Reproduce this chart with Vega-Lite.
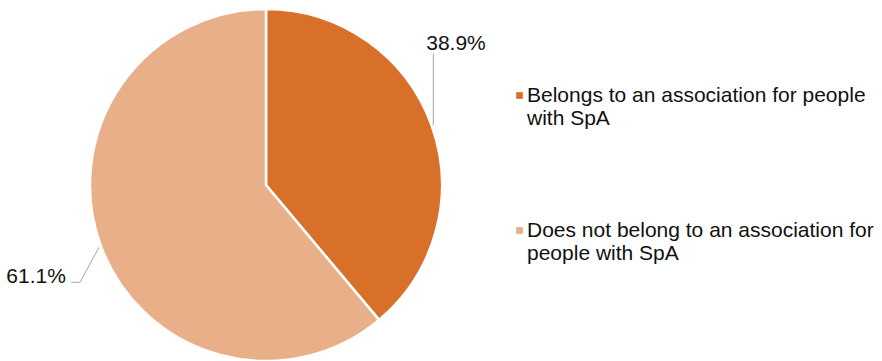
{
  "$schema": "https://vega.github.io/schema/vega-lite/v6.json",
  "width": 532,
  "height": 370,
  "padding": 0,
  "autosize": {"type": "pad"},
  "background": "white",
  "config": {"view": {"stroke": null}, "font": "Liberation Sans"},
  "datasets": {
    "slices": [
      {"category": "Belongs to an association for people with SpA", "share": 38.9, "label": "38.9%", "rank": 1},
      {"category": "Does not belong to an association for people with SpA", "share": 61.1, "label": "61.1%", "rank": 2}
    ],
    "leaders": [
      {"leader": "a", "seq": 1, "px": 0.9506, "py": 0.7483},
      {"leader": "a", "seq": 2, "px": 0.9506, "py": 0.3409},
      {"leader": "b", "seq": 1, "px": -1.108, "py": -0.5528},
      {"leader": "b", "seq": 2, "px": -1.0568, "py": -0.5528},
      {"leader": "b", "seq": 3, "px": -0.9489, "py": -0.354}
    ]
  },
  "layer": [
    {
      "data": {"name": "slices"},
      "mark": {"type": "arc", "outerRadius": 176, "stroke": "white", "strokeWidth": 2.5},
      "encoding": {
        "theta": {"field": "share", "type": "quantitative", "stack": true},
        "order": {"field": "rank", "type": "quantitative"},
        "color": {
          "field": "category",
          "type": "nominal",
          "scale": {
            "domain": ["Belongs to an association for people with SpA", "Does not belong to an association for people with SpA"],
            "range": ["#D9702A", "#E9AF88"]
          },
          "legend": {
            "title": null,
            "orient": "none",
            "legendX": 509,
            "legendY": 91,
            "padding": 0,
            "symbolType": "M-1,-2.79H1V-0.79H-1Z",
            "symbolSize": 45,
            "symbolStrokeWidth": 0,
            "labelFontSize": 21,
            "labelFont": "Liberation Sans",
            "labelColor": "#111111",
            "labelLimit": 500,
            "labelOffset": -3,
            "labelBaseline": "alphabetic",
            "rowPadding": 90,
            "labelExpr": "datum.label == 'Belongs to an association for people with SpA' ? ['Belongs to an association for people', 'with SpA'] : ['Does not belong to an association for', 'people with SpA']",
            "encode": {"labels": {"update": {"dy": {"value": 16}}}}
          }
        }
      }
    },
    {
      "data": {"name": "slices"},
      "mark": {"type": "text", "radius": 200, "dx": 2, "dy": -66.6, "fontSize": 21, "font": "Liberation Sans", "color": "#111111", "align": "center", "baseline": "alphabetic"},
      "encoding": {
        "theta": {"field": "share", "type": "quantitative", "stack": true},
        "order": {"field": "rank", "type": "quantitative"},
        "text": {"condition": {"test": "datum.rank == 1", "field": "label"}, "value": ""}
      }
    },
    {
      "data": {"name": "slices"},
      "mark": {"type": "text", "radius": 200, "dx": -42, "dy": 29.6, "fontSize": 21, "font": "Liberation Sans", "color": "#111111", "align": "center", "baseline": "alphabetic"},
      "encoding": {
        "theta": {"field": "share", "type": "quantitative", "stack": true},
        "order": {"field": "rank", "type": "quantitative"},
        "text": {"condition": {"test": "datum.rank == 2", "field": "label"}, "value": ""}
      }
    },
    {
      "data": {"name": "leaders"},
      "mark": {"type": "line", "color": "#A6A6A6", "strokeWidth": 1},
      "encoding": {
        "x": {"field": "px", "type": "quantitative", "scale": {"domain": [-1.5114, 1.5114]}, "axis": null},
        "y": {"field": "py", "type": "quantitative", "scale": {"domain": [-1.0511, 1.0511]}, "axis": null},
        "detail": {"field": "leader", "type": "nominal"},
        "order": {"field": "seq", "type": "quantitative"}
      }
    }
  ]
}
